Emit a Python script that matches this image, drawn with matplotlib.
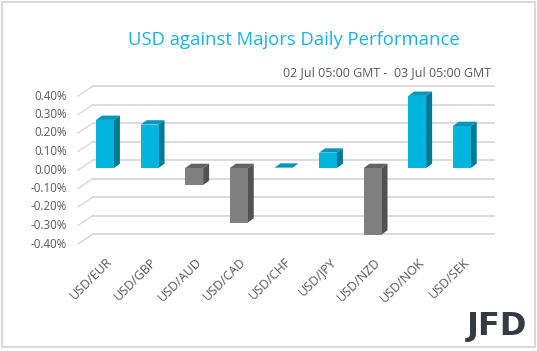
import matplotlib
matplotlib.use("Agg")
import matplotlib.pyplot as plt
from matplotlib.patches import Polygon, Rectangle

categories = ["USD/EUR", "USD/GBP", "USD/AUD", "USD/CAD", "USD/CHF",
              "USD/JPY", "USD/NZD", "USD/NOK", "USD/SEK"]
values = [0.26, 0.235, -0.092, -0.295, 0.002, 0.083, -0.36, 0.39, 0.227]
yticks = [0.40, 0.30, 0.20, 0.10, 0.00, -0.10, -0.20, -0.30, -0.40]
title = "USD against Majors Daily Performance"
subtitle = "02 Jul 05:00 GMT -  03 Jul 05:00 GMT"

W, H = 537, 351
fig = plt.figure(figsize=(W / 100, H / 100), dpi=100)
plt.rcParams['font.family'] = ['Open Sans', 'DejaVu Sans']

# axes geometry in pixels
px_per_cat = 44.6
px_per_unit = 185.0  # per 1.0 (i.e. per 1%)
left_px = 82.7
zero_px = 168.0
ylo, yhi = -0.45, 0.45
ax_w = 9 * px_per_cat
bottom_px = zero_px - ylo * px_per_unit
top_px = zero_px - yhi * px_per_unit
ax = fig.add_axes([left_px / W, (H - bottom_px) / H, ax_w / W, (bottom_px - top_px) / H])
ax.set_xlim(-0.5, 8.5)
ax.set_ylim(ylo, yhi)
ax.axis('off')

dxu = 1.0 / px_per_cat   # data units per pixel in x
dyu = 1.0 / px_per_unit  # data units per pixel in y

grid_c = "#D9D9D9"
# back wall gridlines and floor diagonals
back_dx, back_dy = 10.3, 8.0
front_dx, front_dy = -4.7, -2.0
for t in yticks:
    ax.plot([-0.5 + back_dx * dxu, 8.5 + back_dx * dxu],
            [t + back_dy * dyu, t + back_dy * dyu], color=grid_c, lw=1.3,
            clip_on=False, zorder=0)
    ax.plot([-0.5 + front_dx * dxu, -0.5 + back_dx * dxu],
            [t + front_dy * dyu, t + back_dy * dyu], color=grid_c, lw=1.0,
            clip_on=False, zorder=0)
    ax.text(-0.5 - 15.7 * dxu, t + front_dy * dyu, f"{t:.2f}%",
            ha='right', va='center', fontsize=8.3, color="#595959")

# bars
bw = 0.40
ddx, ddy = 6.0 * dxu, 4.3 * dyu
pos_cols = ("#00B4DE", "#0096BA", "#007A92")
neg_cols = ("#808080", "#636363", "#525252")
xs = list(range(len(categories)))
for x, v in zip(xs, values):
    front, top, side = pos_cols if v >= 0 else neg_cols
    x0, x1 = x - bw / 2, x + bw / 2
    hi = max(v, 0)
    lo = min(v, 0)
    ax.bar(x, v, width=bw, color=front, zorder=3, clip_on=False)
    ax.add_patch(Polygon([(x1, lo), (x1 + ddx, lo + ddy), (x1 + ddx, hi + ddy), (x1, hi)],
                         closed=True, color=side, zorder=2, clip_on=False, lw=0))
    ax.add_patch(Polygon([(x0, hi), (x0 + ddx, hi + ddy), (x1 + ddx, hi + ddy), (x1, hi)],
                         closed=True, color=top, zorder=4, clip_on=False, lw=0))
    ax.text(x + 1.0 * dxu, -0.472, categories[x], rotation=45, ha='right', va='top',
            rotation_mode='anchor', fontsize=9, color="#595959")

fig.text(293.5 / W, 1 - 40 / H, title, ha='center', va='center',
         fontsize=13.3, color="#1AB2E0")
fig.text(491 / W, 1 - 73 / H, subtitle, ha='right', va='center',
         fontsize=9, color="#595959")

# logo text
fig.text(527 / W, 1 - 327 / H, "JFD", ha='right', va='center', fontsize=23,
         fontweight='bold', color="#353B44", family=['DejaVu Sans'])

# outer border
fig.patches.append(Rectangle((2 / W, 4 / H), 533 / W, 345 / H, transform=fig.transFigure,
                             fill=False, edgecolor="#D9D9D9", lw=1.5))

fig.savefig("out.png", dpi=100)
